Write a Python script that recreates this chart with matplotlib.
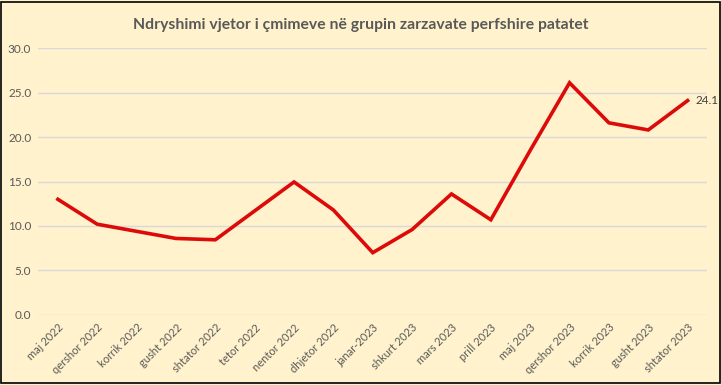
import matplotlib
matplotlib.use("Agg")
import matplotlib.pyplot as plt
from matplotlib.patches import Rectangle

months = ["maj 2022", "qershor 2022", "korrik 2022", "gusht 2022", "shtator 2022",
          "tetor 2022", "nentor 2022", "dhjetor 2022", "janar-2023", "shkurt 2023",
          "mars 2023", "prill 2023", "maj 2023", "qershor 2023", "korrik 2023",
          "gusht 2023", "shtator 2023"]
values = [13.0, 10.2, 9.4, 8.6, 8.45, 11.7, 14.95, 11.8, 7.0, 9.6,
          13.6, 10.7, 18.5, 26.1, 21.6, 20.8, 24.1]
yticks = [0, 5, 10, 15, 20, 25, 30]
title = "Ndryshimi vjetor i çmimeve në grupin zarzavate perfshire patatet"

bg = "#FFF2CC"
plt.rcParams['font.family'] = ['Lato', 'DejaVu Sans']

fig = plt.figure(figsize=(7.21, 3.85), dpi=100, facecolor=bg)
fig.patches.append(Rectangle((0.002, 0.004), 0.996, 0.992, transform=fig.transFigure,
                             fill=False, edgecolor="black", linewidth=1.2))
ax = fig.add_axes([0.053, 0.182, 0.928, 0.693])
ax.set_facecolor(bg)
x = list(range(len(months)))
ax.plot(x, values, color="#DD0A0A", linewidth=2.6, solid_joinstyle="miter")
ax.set_xlim(-0.5, len(months) - 0.5)
ax.set_ylim(0, 30)
ax.set_yticks(yticks)
ax.set_yticklabels([f"{v:.1f}" for v in yticks], fontsize=8.5, color="#595959")
ax.set_xticks(x)
ax.set_xticklabels(months, rotation=45, ha="right", rotation_mode="anchor",
                   fontsize=8, color="#595959")
ax.tick_params(length=0, pad=5)
ax.grid(axis="y", color="#D9D9D9", linewidth=1)
ax.set_axisbelow(True)
for s in ax.spines.values():
    s.set_visible(False)
ax.annotate(f"{values[-1]:.1f}", (x[-1], values[-1]), xytext=(6, 0),
            textcoords="offset points", fontsize=8.5, color="#404040", va="center")
fig.text(0.5, 0.935, title, ha="center", va="center", fontsize=11.3,
         fontweight="bold", color="#595959")
fig.savefig("out.png", dpi=100, facecolor=bg)
